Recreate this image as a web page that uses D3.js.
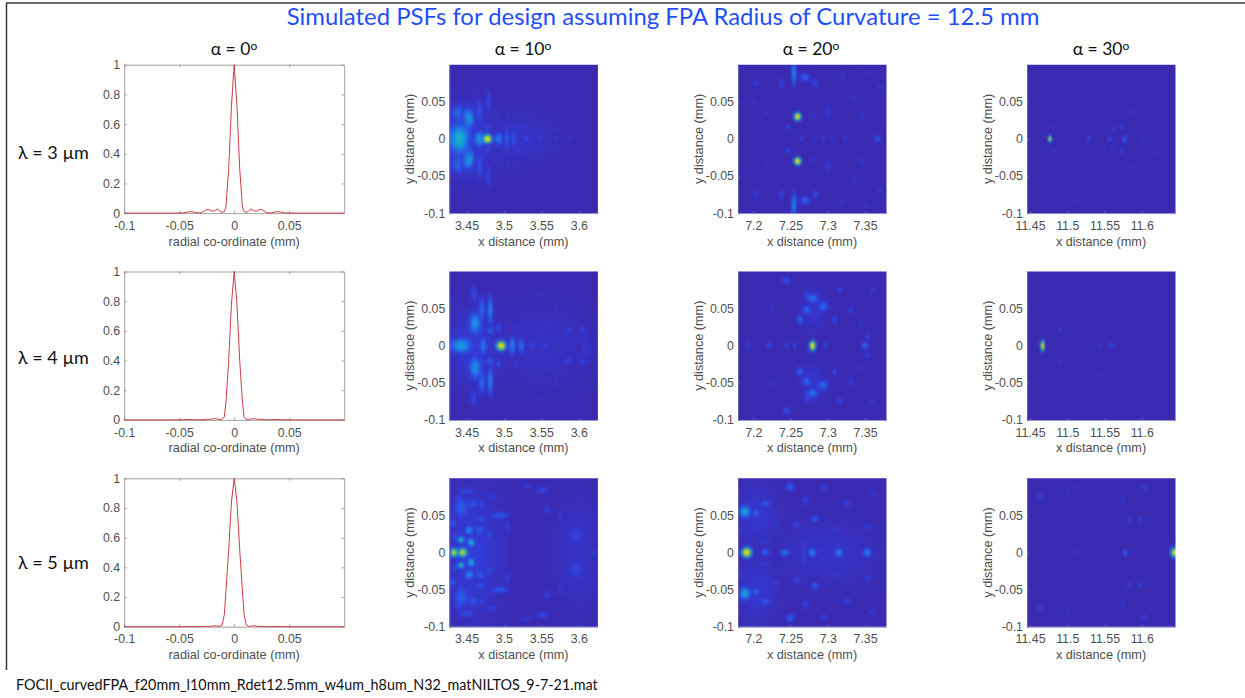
<!DOCTYPE html>
<html>
<head>
<meta charset="utf-8">
<script src="https://cdn.jsdelivr.net/npm/d3@7"></script>
<style>
  html, body { margin: 0; padding: 0; background: #fff; }
  svg { display: block; }
  text { font-family: "Liberation Sans", Arial, sans-serif; fill: #4f4f4f; }
  .slide { font-family: Lato, "Open Sans", sans-serif; fill: #111; }
  .axis path, .axis line { stroke: #8a8a8a; stroke-width: 0.8; }
  .heat path, .heat line { stroke: #6f68c0; }
  .axis text { font-size: 12.4px; fill: #4f4f4f; font-family: "Liberation Sans", Arial, sans-serif; }
</style>
</head>
<body>
<div id="chart"></div>
<script>
const titleText = "Simulated PSFs for design assuming FPA Radius of Curvature = 12.5 mm";
const footerText = "FOCII_curvedFPA_f20mm_l10mm_Rdet12.5mm_w4um_h8um_N32_matNILTOS_9-7-21.mat";
const angles = [0, 10, 20, 30];
const wavelengths = [3, 4, 5];

const radialMm = [0, 0.0025, 0.005, 0.0075, 0.009, 0.011, 0.013, 0.015, 0.0175, 0.02, 0.0225, 0.025, 0.0275, 0.03, 0.034, 0.038, 0.042, 0.046, 0.06, 0.1];
const psf3um = [1, 0.72, 0.3, 0.04, 0.01, 0.005, 0.012, 0.028, 0.018, 0.012, 0.022, 0.025, 0.012, 0.002, 0.002, 0.009, 0.008, 0.001, 0, 0];
const psf4um = [1, 0.78, 0.4, 0.12, 0.02, 0.004, 0.003, 0.006, 0.008, 0.006, 0.004, 0.004, 0.002, 0.001, 0.001, 0.002, 0.002, 0.001, 0, 0];
const psf5um = [1, 0.84, 0.52, 0.24, 0.08, 0.012, 0.002, 0.004, 0.006, 0.004, 0.002, 0.002, 0.002, 0.001, 0.001, 0.001, 0.001, 0, 0, 0];
const radialRows = [psf3um, psf4um, psf5um];

const lineXTicks = [-0.1, -0.05, 0, 0.05];
const lineYTicks = [0, 0.2, 0.4, 0.6, 0.8, 1];
const heatYTicks = [-0.1, -0.05, 0, 0.05];
const xTicks10 = [3.45, 3.5, 3.55, 3.6];
const xTicks20 = [7.2, 7.25, 7.3, 7.35];
const xTicks30 = [11.45, 11.5, 11.55, 11.6];
const xDomain10 = [3.4272, 3.6256];
const xDomain20 = [7.1795, 7.3788];
const xDomain30 = [11.446, 11.6453];

// bright spots: x mm, |y| mm, half width mm, half height mm, intensity
// anything with y > 0 shows up on both sides of the axis
const spots3um10 = [
  [3.455, 0, 0.03, 0.05, 0.09], [3.52, 0, 0.04, 0.03, 0.06],
  [3.4782, 0, 0.0056, 0.0056, 1], [3.4674, 0, 0.007, 0.009, 0.42], [3.4406, 0, 0.012, 0.018, 0.5], [3.430, 0, 0.004, 0.013, 0.42],
  [3.4527, 0.026, 0.0065, 0.013, 0.45], [3.4393, 0.033, 0.009, 0.012, 0.25], [3.4674, 0.037, 0.003, 0.015, 0.2], [3.4795, 0.05, 0.003, 0.015, 0.13],
  [3.493, 0, 0.005, 0.008, 0.3], [3.504, 0, 0.003, 0.012, 0.22], [3.513, 0, 0.003, 0.01, 0.18], [3.530, 0, 0.005, 0.004, 0.14],
  [3.5488, 0, 0.004, 0.004, 0.1], [3.571, 0, 0.004, 0.004, 0.08], [3.589, 0, 0.003, 0.003, 0.07], [3.504, 0.015, 0.003, 0.004, 0.14],
  [3.517, 0.015, 0.003, 0.004, 0.12], [3.504, 0.033, 0.003, 0.004, 0.08], [3.478, 0.014, 0.002, 0.004, 0.2], [3.53, 0.015, 0.003, 0.003, 0.09],
  [3.55, 0.012, 0.005, 0.003, 0.07], [3.57, 0.012, 0.005, 0.003, 0.06], [3.49, 0.03, 0.003, 0.005, 0.08], [3.52, 0.035, 0.003, 0.003, 0.06]
];
const spots3um20 = [
  [7.2595, 0.03, 0.0044, 0.005, 1], [7.2546, 0.0885, 0.003, 0.014, 0.36], [7.2693, 0.083, 0.006, 0.005, 0.22], [7.2828, 0.075, 0.004, 0.005, 0.14],
  [7.238, 0.075, 0.003, 0.006, 0.12], [7.247, 0.016, 0.003, 0.003, 0.17], [7.265, 0, 0.002, 0.004, 0.14], [7.2828, 0, 0.002, 0.003, 0.12],
  [7.294, 0, 0.003, 0.003, 0.12], [7.323, 0, 0.002, 0.003, 0.12], [7.3668, 0, 0.004, 0.004, 0.2], [7.307, 0, 0.002, 0.003, 0.1],
  [7.3, 0.037, 0.003, 0.006, 0.11], [7.32, 0.085, 0.002, 0.004, 0.09], [7.204, 0.075, 0.004, 0.004, 0.09], [7.345, 0.03, 0.004, 0.004, 0.07],
  [7.37, 0.07, 0.003, 0.003, 0.08], [7.335, 0.055, 0.004, 0.004, 0.07], [7.218, 0.035, 0.003, 0.003, 0.06], [7.2, 0.05, 0.003, 0.004, 0.05],
  [7.28, 0.03, 0.004, 0.004, 0.06], [7.35, 0.09, 0.004, 0.003, 0.06]
];
const spots3um30 = [
  [11.4768, 0, 0.0022, 0.004, 0.95], [11.481, 0.016, 0.002, 0.002, 0.12], [11.451, 0, 0.002, 0.002, 0.08], [11.499, 0, 0.002, 0.002, 0.08],
  [11.529, 0, 0.002, 0.003, 0.17], [11.557, 0, 0.003, 0.003, 0.15], [11.577, 0, 0.003, 0.005, 0.2], [11.5618, 0.013, 0.002, 0.003, 0.13],
  [11.573, 0.016, 0.002, 0.003, 0.15], [11.602, 0, 0.003, 0.002, 0.1], [11.585, 0.037, 0.002, 0.004, 0.06], [11.51, 0.085, 0.002, 0.003, 0.05],
  [11.62, 0.02, 0.002, 0.003, 0.05]
];
const spots4um10 = [
  [3.46, 0, 0.03, 0.05, 0.09], [3.55, 0, 0.06, 0.05, 0.04],
  [3.4965, 0, 0.006, 0.006, 1], [3.443, 0, 0.012, 0.009, 0.42], [3.430, 0, 0.005, 0.007, 0.25], [3.4725, 0, 0.004, 0.011, 0.3],
  [3.5112, 0, 0.004, 0.011, 0.32], [3.5233, 0, 0.004, 0.009, 0.27], [3.538, 0, 0.004, 0.005, 0.13], [3.5537, 0, 0.003, 0.006, 0.12],
  [3.4616, 0.03, 0.007, 0.013, 0.38], [3.4817, 0.048, 0.003, 0.017, 0.35], [3.4705, 0.048, 0.004, 0.015, 0.26], [3.4817, 0.021, 0.004, 0.004, 0.28],
  [3.4929, 0.024, 0.003, 0.004, 0.2], [3.4705, 0.022, 0.004, 0.004, 0.2], [3.5865, 0.02, 0.005, 0.004, 0.12], [3.605, 0.022, 0.005, 0.005, 0.1],
  [3.56, 0.03, 0.003, 0.004, 0.08], [3.515, 0.025, 0.003, 0.003, 0.1], [3.53, 0.03, 0.003, 0.003, 0.08], [3.61, 0.005, 0.006, 0.012, 0.07],
  [3.46, 0.07, 0.004, 0.01, 0.14], [3.55, 0.07, 0.005, 0.003, 0.05], [3.57, 0.05, 0.003, 0.006, 0.06]
];
const spots4um20 = [
  [7.2796, 0, 0.0038, 0.0062, 1], [7.1934, 0, 0.002, 0.004, 0.12], [7.2215, 0, 0.003, 0.004, 0.17], [7.2448, 0, 0.002, 0.004, 0.12],
  [7.2558, 0, 0.002, 0.005, 0.14], [7.2963, 0, 0.002, 0.004, 0.15], [7.3497, 0, 0.004, 0.004, 0.27], [7.353, 0.012, 0.003, 0.003, 0.15],
  [7.2796, 0.064, 0.007, 0.005, 0.28], [7.2716, 0.048, 0.005, 0.005, 0.25], [7.2938, 0.053, 0.006, 0.006, 0.25], [7.2626, 0.035, 0.004, 0.005, 0.24],
  [7.309, 0.035, 0.003, 0.004, 0.15], [7.331, 0.048, 0.003, 0.004, 0.13], [7.316, 0.075, 0.003, 0.004, 0.13], [7.2447, 0.088, 0.005, 0.004, 0.18],
  [7.272, 0.07, 0.003, 0.005, 0.16], [7.36, 0.075, 0.003, 0.003, 0.08], [7.225, 0.05, 0.004, 0.004, 0.06], [7.345, 0.03, 0.003, 0.003, 0.08],
  [7.28, 0.05, 0.015, 0.025, 0.07]
];
const spots4um30 = [
  [11.467, 0, 0.0025, 0.0068, 1], [11.49, 0.021, 0.002, 0.002, 0.12], [11.544, 0, 0.002, 0.003, 0.1], [11.5587, 0, 0.003, 0.004, 0.13],
  [11.568, 0.03, 0.002, 0.002, 0.08], [11.5418, 0.04, 0.002, 0.003, 0.07], [11.51, 0, 0.002, 0.002, 0.06], [11.6, 0.025, 0.002, 0.003, 0.05],
  [11.5, 0.045, 0.002, 0.002, 0.04], [11.54, 0.08, 0.003, 0.002, 0.04]
];
const spots5um10 = [
  [3.46, 0, 0.035, 0.08, 0.1], [3.6, 0, 0.03, 0.07, 0.05],
  [3.4335, 0, 0.0055, 0.0055, 0.87], [3.445, 0, 0.0055, 0.0055, 0.9], [3.4428, 0.017, 0.0042, 0.0042, 0.55], [3.4562, 0.0134, 0.0045, 0.0045, 0.52],
  [3.4536, 0.03, 0.005, 0.005, 0.37], [3.468, 0.03, 0.006, 0.006, 0.2], [3.4428, 0.06, 0.009, 0.012, 0.22], [3.457, 0.066, 0.009, 0.006, 0.2],
  [3.495, 0.05, 0.011, 0.004, 0.2], [3.47, 0.045, 0.006, 0.004, 0.17], [3.48, 0.025, 0.004, 0.006, 0.16], [3.432, 0.04, 0.004, 0.006, 0.2],
  [3.45, 0.082, 0.01, 0.004, 0.16], [3.551, 0.084, 0.007, 0.004, 0.14], [3.53, 0.09, 0.006, 0.003, 0.1], [3.558, 0.057, 0.004, 0.005, 0.12],
  [3.596, 0.024, 0.009, 0.01, 0.13], [3.62, 0, 0.002, 0.005, 0.13], [3.5, 0.012, 0.002, 0.012, 0.09], [3.575, 0.05, 0.003, 0.008, 0.09],
  [3.485, 0.075, 0.006, 0.003, 0.13], [3.435, 0.02, 0.003, 0.005, 0.2], [3.505, 0.035, 0.003, 0.006, 0.14], [3.47, 0.065, 0.006, 0.004, 0.16],
  [3.44, 0.073, 0.006, 0.004, 0.17], [3.478, 0.008, 0.002, 0.01, 0.12]
];
const spots5um20 = [
  [7.205, 0.05, 0.025, 0.04, 0.07], [7.3, 0, 0.06, 0.04, 0.05],
  [7.1911, 0, 0.0062, 0.0062, 1], [7.2157, 0, 0.005, 0.004, 0.24], [7.2425, 0, 0.006, 0.004, 0.3], [7.2792, 0, 0.005, 0.005, 0.33],
  [7.3149, 0, 0.005, 0.005, 0.33], [7.3533, 0, 0.005, 0.005, 0.33], [7.1889, 0.055, 0.0065, 0.0075, 0.45], [7.2034, 0.053, 0.004, 0.004, 0.26],
  [7.216, 0.066, 0.006, 0.004, 0.2], [7.2493, 0.0885, 0.005, 0.005, 0.22], [7.2826, 0.045, 0.005, 0.004, 0.2], [7.2585, 0.037, 0.004, 0.004, 0.16],
  [7.1822, 0.03, 0.002, 0.006, 0.15], [7.2157, 0.015, 0.007, 0.003, 0.11], [7.268, 0.006, 0.002, 0.01, 0.15], [7.325, 0.066, 0.005, 0.004, 0.12],
  [7.27, 0.07, 0.004, 0.006, 0.12], [7.355, 0.035, 0.005, 0.004, 0.1], [7.31, 0.03, 0.006, 0.004, 0.09], [7.23, 0.04, 0.004, 0.005, 0.1],
  [7.295, 0.088, 0.004, 0.004, 0.1], [7.36, 0.08, 0.004, 0.004, 0.09]
];
const spots5um30 = [
  [11.6445, 0, 0.005, 0.006, 0.97], [11.578, 0, 0.003, 0.004, 0.22], [11.51, 0, 0.002, 0.003, 0.08], [11.5825, 0.044, 0.002, 0.004, 0.12],
  [11.598, 0.044, 0.003, 0.004, 0.12], [11.604, 0.088, 0.003, 0.004, 0.1], [11.4635, 0.075, 0.004, 0.004, 0.09], [11.575, 0.07, 0.002, 0.006, 0.07],
  [11.5, 0.08, 0.002, 0.004, 0.06], [11.55, 0.02, 0.002, 0.003, 0.05], [11.51, 0.09, 0.003, 0.003, 0.05]
];

const heatPanels = [
  { angle: 10, row: 0, spots: spots3um10 }, { angle: 20, row: 0, spots: spots3um20 }, { angle: 30, row: 0, spots: spots3um30 },
  { angle: 10, row: 1, spots: spots4um10 }, { angle: 20, row: 1, spots: spots4um20 }, { angle: 30, row: 1, spots: spots4um30 },
  { angle: 10, row: 2, spots: spots5um10 }, { angle: 20, row: 2, spots: spots5um20 }, { angle: 30, row: 2, spots: spots5um30 }
];

const width = 1245, height = 698;
const rowTop = [64.7, 271.5, 478.3];
const plotHeight = 148.4;
const colLeft = { 10: 449.4, 20: 738, 30: 1027 };
const colDomain = { 10: xDomain10, 20: xDomain20, 30: xDomain30 };
const colTicks = { 10: xTicks10, 20: xTicks20, 30: xTicks30 };
const colCentre = [234, 523, 811, 1101];
const rowLabelY = [153, 358, 563];

// parula-ish, as the picture shows it
const parula = d3.scaleLinear()
    .domain([0, 0.12, 0.3, 0.45, 0.6, 0.78, 1])
    .range(["#3a2ab2", "#3040e0", "#2078ea", "#14a4d6", "#2dbc9c", "#9cc83e", "#fbe51e"])
    .clamp(true);

// d3.format gives a unicode minus, the MATLAB labels have a hyphen
const plainTick = d => String(d);

const svg = d3.select("#chart").append("svg")
    .attr("width", width)
    .attr("height", height);
const defs = svg.append("defs");

defs.append("filter").attr("id", "soften")
    .attr("x", 0).attr("y", 0).attr("width", 1).attr("height", 1)
    .attr("color-interpolation-filters", "sRGB")
    .append("feGaussianBlur").attr("stdDeviation", 0.8);

// one radial gradient per intensity level, a blob that fades out into the background
function gradientFor(level) {
  const id = "spot" + Math.round(level * 100);
  if (defs.select("#" + id).empty()) {
    const g = defs.append("radialGradient").attr("id", id);
    d3.range(0, 1.01, 0.1).forEach(t => {
      g.append("stop")
          .attr("offset", t)
          .attr("stop-color", parula(level * Math.exp(-2.6 * t * t)))
          .attr("stop-opacity", Math.min(1, (1 - t) * 1.5));
    });
  }
  return "url(#" + id + ")";
}

// slide frame
svg.append("line").attr("x1", 6.5).attr("x2", 6.5).attr("y1", 3).attr("y2", 670)
    .attr("stroke", "#3a3a3a").attr("stroke-width", 1.5);
svg.append("line").attr("x1", 6).attr("x2", width).attr("y1", 3).attr("y2", 3)
    .attr("stroke", "#3a3a3a").attr("stroke-width", 1.5);

svg.append("text").attr("class", "slide")
    .attr("x", 663).attr("y", 25)
    .attr("text-anchor", "middle")
    .style("font-size", "23.9px")
    .style("fill", "#1f4ffb")
    .text(titleText);

svg.append("text").attr("class", "slide")
    .attr("x", 16).attr("y", 690)
    .style("font-size", "14.35px")
    .text(footerText);

const colTitles = svg.selectAll(".colTitle")
    .data(angles)
    .enter()
    .append("text")
    .attr("class", "slide colTitle")
    .attr("x", (d, i) => colCentre[i])
    .attr("y", 55)
    .attr("text-anchor", "middle")
    .style("font-size", "17.5px")
    .text(d => "α = " + d);
colTitles.append("tspan")
    .attr("dy", -5)
    .style("font-size", "12px")
    .text("o");

svg.selectAll(".rowLabel")
    .data(wavelengths)
    .enter()
    .append("text")
    .attr("class", "slide rowLabel")
    .attr("x", 18)
    .attr("y", (d, i) => rowLabelY[i] + 6)
    .style("font-size", "18px")
    .text(d => "λ = " + d + " µm");

// left column: radial cuts
radialRows.forEach((values, row) => {
  const x = d3.scaleLinear().domain([-0.1, 0.1]).range([0, 220]);
  const y = d3.scaleLinear().domain([0, 1]).range([plotHeight, 0]);
  const graph = svg.append("g")
      .attr("transform", "translate(124.2," + rowTop[row] + ")");

  graph.append("g").attr("class", "axis")
      .attr("transform", "translate(0," + plotHeight + ")")
      .call(d3.axisBottom(x).tickValues(lineXTicks).tickSize(-2.5).tickSizeOuter(0).tickPadding(8).tickFormat(plainTick));
  graph.append("g").attr("class", "axis")
      .call(d3.axisLeft(y).tickValues(lineYTicks).tickSize(-2.5).tickSizeOuter(0).tickPadding(4).tickFormat(plainTick));
  graph.append("g").attr("class", "axis")
      .call(d3.axisTop(x).tickValues(lineXTicks).tickSize(-2.5).tickSizeOuter(0).tickFormat(""));
  graph.append("g").attr("class", "axis")
      .attr("transform", "translate(220,0)")
      .call(d3.axisRight(y).tickValues(lineYTicks).tickSize(-2.5).tickSizeOuter(0).tickFormat(""));

  const points = radialMm.map((r, i) => [r, values[i]]);
  const profile = points.slice(1).reverse().map(p => [-p[0], p[1]]).concat(points);
  const line = d3.line().x(d => x(d[0])).y(d => y(d[1]));
  graph.append("path")
      .attr("d", line(profile))
      .attr("fill", "none")
      .attr("stroke", "#cc3b48")
      .attr("stroke-width", 1);

  graph.append("text")
      .attr("x", 110).attr("y", plotHeight + 32.5)
      .attr("text-anchor", "middle")
      .style("font-size", "12.7px")
      .text("radial co-ordinate (mm)");
});

// the three off-axis columns: PSF images
heatPanels.forEach((panel, n) => {
  const domain = colDomain[panel.angle];
  const plotWidth = 148.5;
  const x = d3.scaleLinear().domain(domain).range([0, plotWidth]);
  const y = d3.scaleLinear().domain([-0.1, 0.1]).range([plotHeight, 0]);
  const graph = svg.append("g")
      .attr("transform", "translate(" + colLeft[panel.angle] + "," + rowTop[panel.row] + ")");

  defs.append("clipPath").attr("id", "clip" + n)
      .append("rect").attr("width", plotWidth).attr("height", plotHeight);

  const image = graph.append("g").attr("clip-path", "url(#clip" + n + ")")
      .append("g").attr("filter", "url(#soften)");
  image.append("rect")
      .attr("x", -4).attr("y", -4)
      .attr("width", plotWidth + 8).attr("height", plotHeight + 8)
      .attr("fill", parula(0));

  const mirrored = [];
  panel.spots.forEach(s => {
    mirrored.push(s);
    if (s[1] > 0) mirrored.push([s[0], -s[1], s[2], s[3], s[4]]);
  });
  mirrored.sort((a, b) => a[4] - b[4]);

  const pxPerMmX = plotWidth / (domain[1] - domain[0]);
  const pxPerMmY = plotHeight / 0.2;
  image.selectAll(".spot")
      .data(mirrored)
      .enter()
      .append("ellipse")
      .attr("class", "spot")
      .attr("cx", d => x(d[0]))
      .attr("cy", d => y(d[1]))
      .attr("rx", d => d[2] * pxPerMmX * 2)
      .attr("ry", d => d[3] * pxPerMmY * 2)
      .attr("fill", d => gradientFor(d[4]));

  graph.append("g").attr("class", "axis heat")
      .attr("transform", "translate(0," + plotHeight + ")")
      .call(d3.axisBottom(x).tickValues(colTicks[panel.angle]).tickSize(-2).tickSizeOuter(0).tickPadding(8).tickFormat(plainTick));
  graph.append("g").attr("class", "axis heat")
      .call(d3.axisLeft(y).tickValues(heatYTicks).tickSize(-2).tickSizeOuter(0).tickPadding(4).tickFormat(plainTick));

  graph.append("text")
      .attr("x", 74).attr("y", plotHeight + 32.5)
      .attr("text-anchor", "middle")
      .style("font-size", "12.7px")
      .text("x distance (mm)");
  graph.append("text")
      .attr("transform", "translate(-35.5," + (plotHeight / 2) + ") rotate(-90)")
      .attr("text-anchor", "middle")
      .style("font-size", "12.7px")
      .text("y distance (mm)");
});
</script>
</body>
</html>
